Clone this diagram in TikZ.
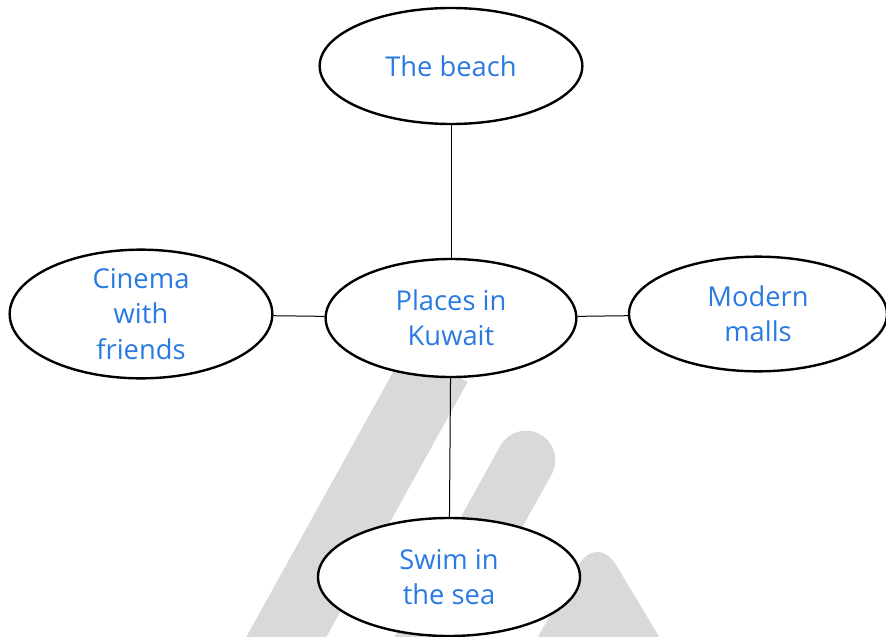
\documentclass[tikz,border=0pt]{standalone}
\usepackage{fontspec}
\setmainfont{Open Sans}
\usepackage{xcolor}
\usetikzlibrary{shapes,calc,positioning}
\definecolor{txtblue}{RGB}{42,122,226}
\definecolor{wmgray}{RGB}{217,217,217}

\begin{document}
\begin{tikzpicture}[x=0.75pt,y=-0.75pt]
  \tikzset{ bubble/.style={ellipse,draw,line width=1.8pt,fill=white,text=txtblue,align=center,inner sep=0pt,
      minimum width=197pt,minimum height=87pt,font=\fontsize{20.5}{26.5}\selectfont},
    wm/.style={wmgray},
    conn/.style={line width=0.75pt},
  }
  \useasboundingbox (0,0) rectangle (886,636);
  \clip (0,0) rectangle (886,636);

  % the grey marks behind the bubbles
  \draw[wm, line width=52.5pt] (268,670) -- (437,365);
  \draw[wm, line width=44pt, line cap=round] (404,680) -- (526,460);
  \fill[wm, rounded corners=28pt] (502,700) -- (597,533) -- (697,700) -- cycle;

  \node[bubble] (beach) at (451,66) {The beach};
  \node[bubble, minimum width=188pt, minimum height=88.5pt] (places) at (451,318) {Places in\\Kuwait};
  \node[bubble] (cinema) at (141,314) {Cinema\\with\\friends};
  \node[bubble, minimum width=193.5pt, minimum height=86pt] (malls) at (758,314) {Modern\\malls};
  \node[bubble, minimum width=196.5pt, minimum height=88.5pt] (swim) at (449,577) {Swim in\\the sea};

  % the connection between the bubbles
  \draw[conn] (beach) -- (places);
  \draw[conn] (places) -- (swim);
  \draw[conn] (cinema) -- (places);
  \draw[conn] (places) -- (malls);
\end{tikzpicture}
\end{document}
